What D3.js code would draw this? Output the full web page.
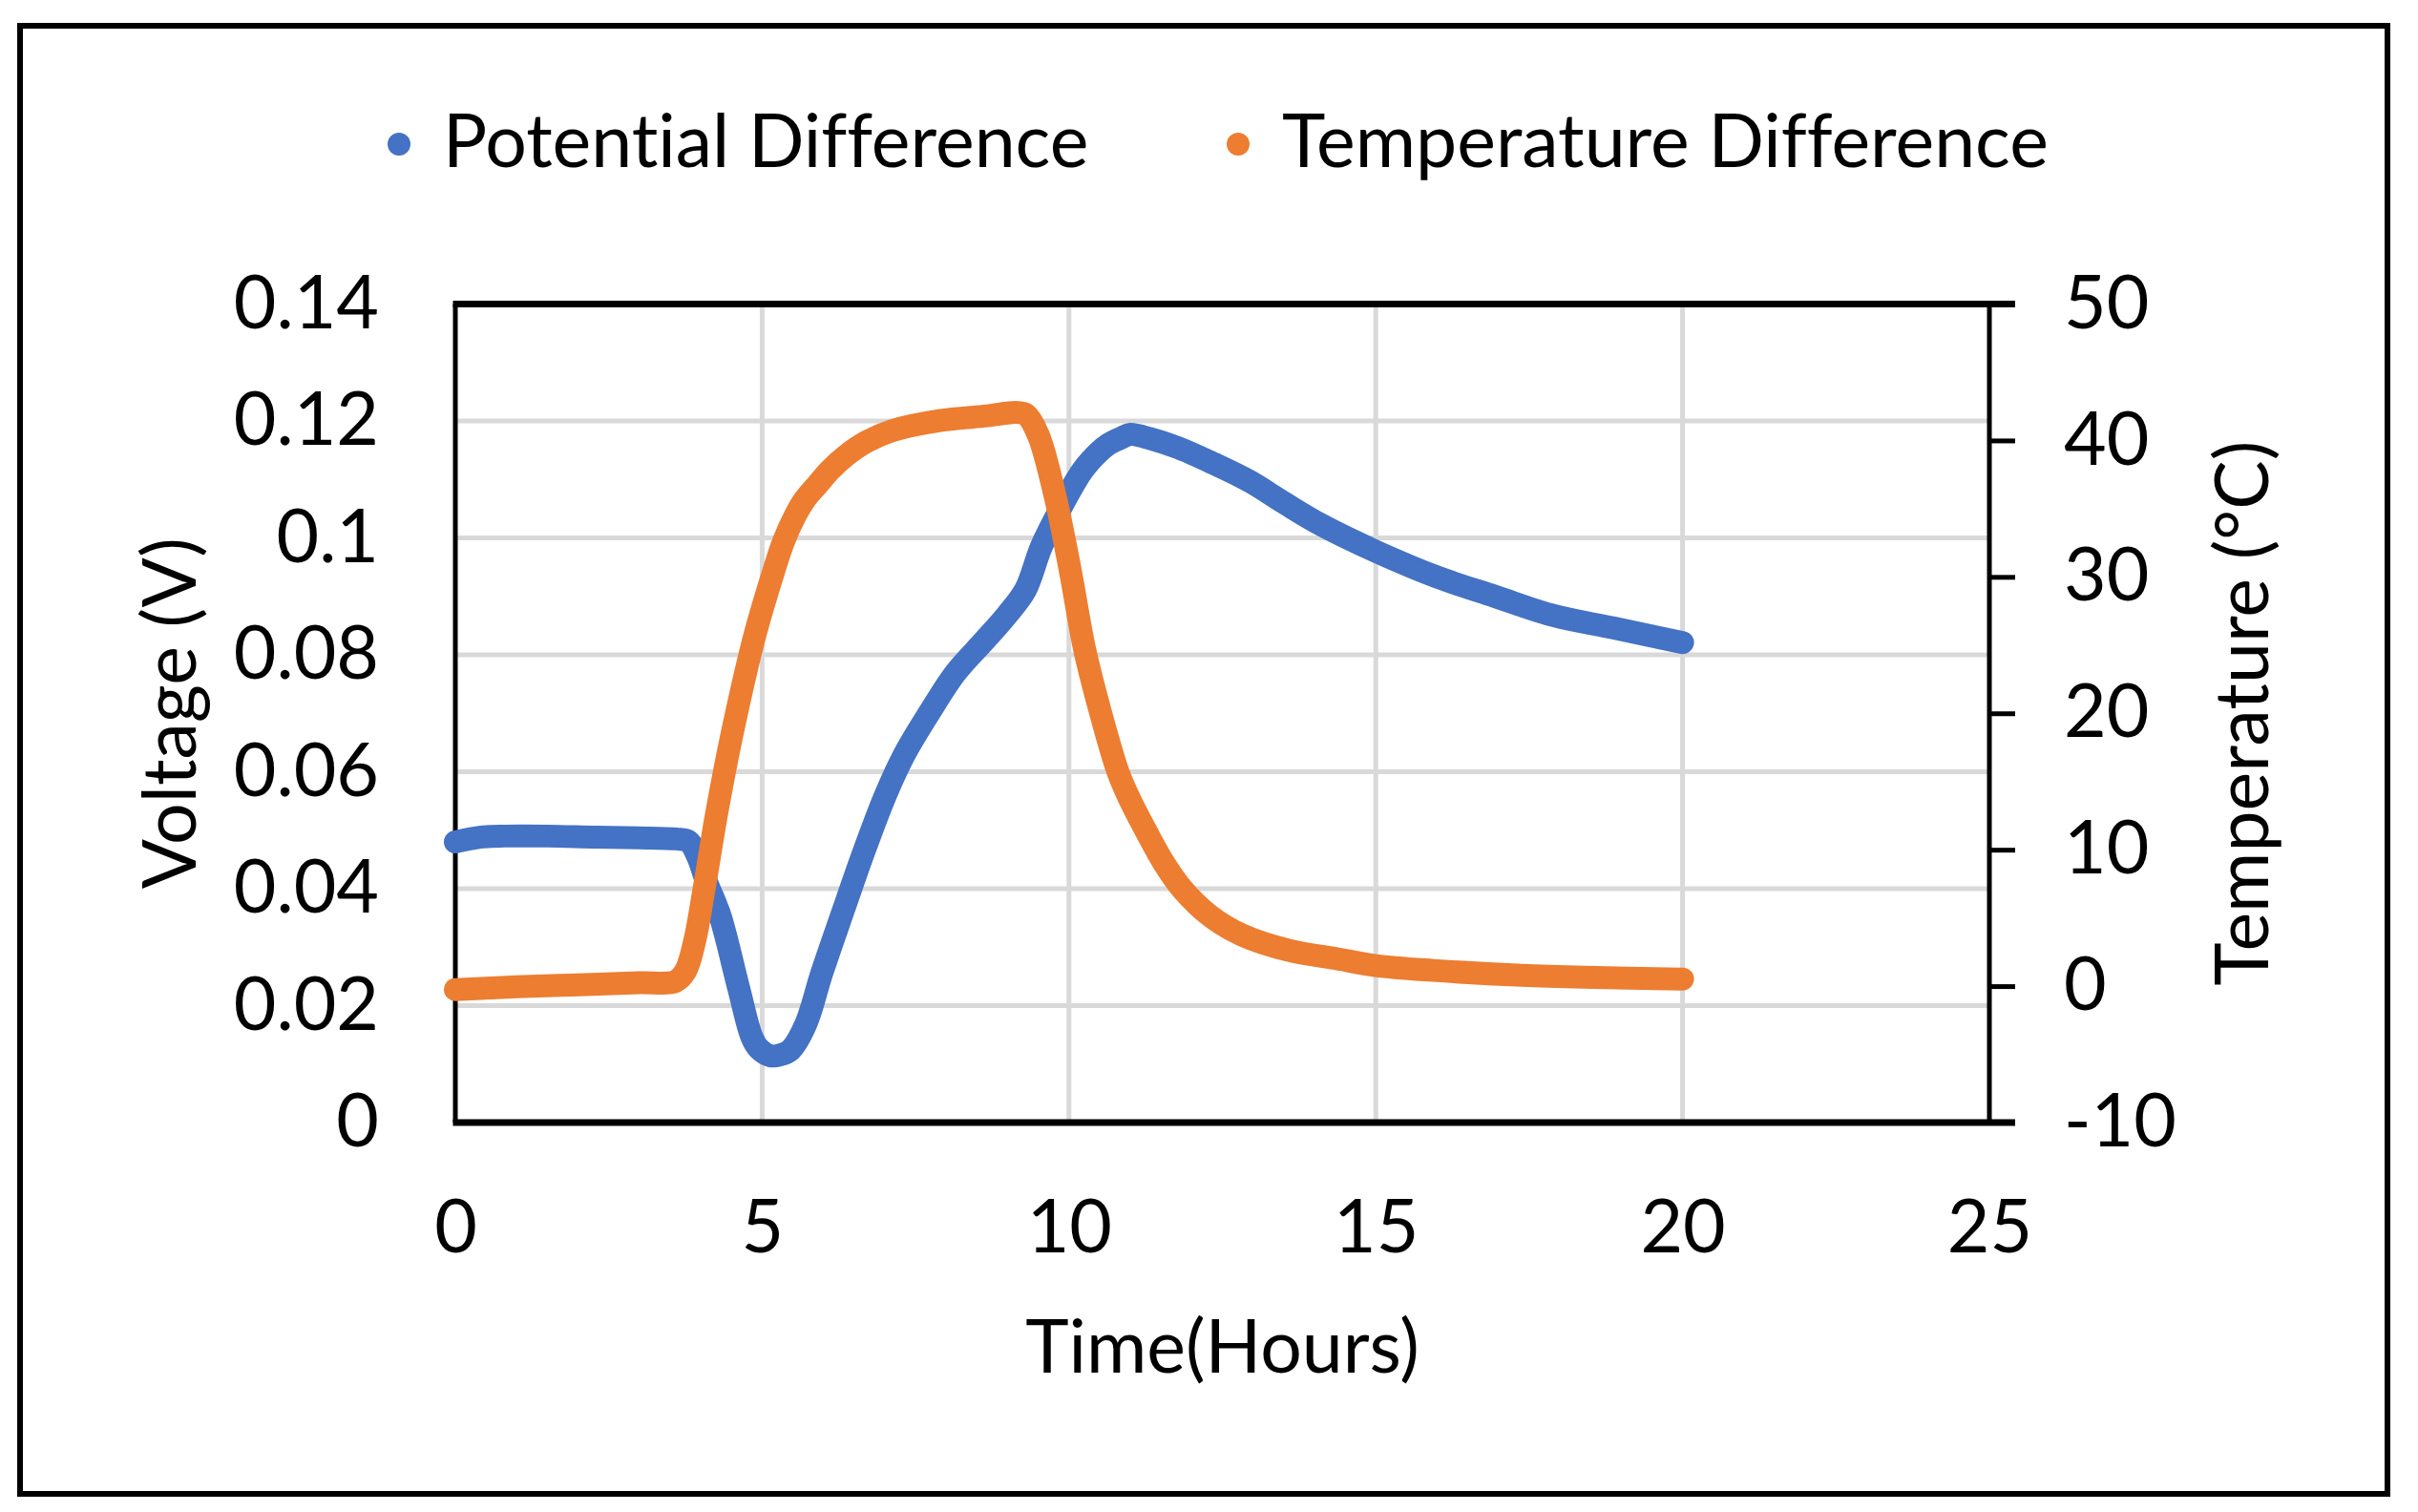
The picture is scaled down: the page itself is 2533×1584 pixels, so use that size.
<!DOCTYPE html>
<html>
<head>
<meta charset="utf-8">
<script src="https://cdn.jsdelivr.net/npm/d3@7"></script>
<style>
  body { margin: 0; background: #fff; }
  text { font-family: Lato, "Open Sans", sans-serif; fill: #000; font-variant-ligatures: none; font-feature-settings: "liga" 0; }
</style>
</head>
<body>
<svg id="chart" width="2533" height="1584"></svg>
<script>
// DATA
const potentialTime = [0, 0.4, 0.8, 1.5, 2.3, 3.0, 3.6, 3.8, 3.95, 4.1, 4.31, 4.62, 4.83, 4.95, 5.14, 5.3, 5.46, 5.71, 5.97, 6.33, 6.65, 7.01, 7.32, 7.79, 8.15, 8.62, 8.98, 9.29, 9.55, 9.86, 10.22, 10.49, 10.64, 10.87, 11.0, 11.32, 11.78, 12.36, 12.94, 13.52, 14.1, 15.0, 16.0, 16.94, 17.9, 18.87, 20.0];
const potentialVolts = [0.0480, 0.0488, 0.0490, 0.0490, 0.0488, 0.0487, 0.0485, 0.0481, 0.0455, 0.0410, 0.0355, 0.0229, 0.0147, 0.0126, 0.0114, 0.0116, 0.0124, 0.0168, 0.0255, 0.0365, 0.0461, 0.0560, 0.0630, 0.0712, 0.0769, 0.0824, 0.0867, 0.0911, 0.0985, 0.1050, 0.1115, 0.1147, 0.1160, 0.1172, 0.1177, 0.1170, 0.1154, 0.1127, 0.1097, 0.1059, 0.1023, 0.0977, 0.0933, 0.0900, 0.0867, 0.0846, 0.0821];

const tempTime = [0, 1.0, 2.0, 3.0, 3.59, 3.75, 3.9, 4.06, 4.26, 4.52, 4.88, 5.18, 5.35, 5.54, 5.7, 5.91, 6.1, 6.37, 6.7, 7.11, 7.89, 8.67, 9.15, 9.3, 9.5, 9.76, 10.02, 10.25, 10.5, 10.8, 11.0, 11.3, 11.55, 11.85, 12.3, 12.82, 13.6, 14.37, 15.0, 15.93, 17.38, 20.0];
const tempDiff = [-0.25, -0.05, 0.1, 0.25, 0.36, 1.1, 3.3, 7.3, 12.7, 18.7, 25.7, 30.3, 32.6, 34.5, 35.7, 36.8, 37.8, 38.9, 39.9, 40.7, 41.45, 41.8, 42.05, 41.9, 40.4, 36.2, 30.5, 24.8, 20.3, 15.7, 13.6, 11.0, 9.0, 7.1, 5.15, 3.75, 2.6, 2.0, 1.5, 1.15, 0.8, 0.52];

const xTicks = [0, 5, 10, 15, 20, 25];
const voltTicks = [0, 0.02, 0.04, 0.06, 0.08, 0.1, 0.12, 0.14];
const tempTicks = [-10, 0, 10, 20, 30, 40, 50];
const seriesNames = ["Potential Difference", "Temperature Difference"];

// CANVAS SETUP
const svg = d3.select("#chart");
const plot = { left: 477, right: 2084, top: 318.5, bottom: 1176 };
const blue = "#4472C4", orange = "#ED7D31", grid = "#D9D9D9";
const fontSize = 77;

svg.append("rect")
  .attr("x", 21).attr("y", 27)
  .attr("width", 2480).attr("height", 1538)
  .attr("fill", "#fff").attr("stroke", "#000").attr("stroke-width", 6);

const x = d3.scaleLinear().domain([0, 25]).range([plot.left, plot.right]);
const yV = d3.scaleLinear().domain([0, 0.14]).range([plot.bottom, plot.top]);
const yT = d3.scaleLinear().domain([-10, 50]).range([plot.bottom, plot.top]);

// gridlines
svg.append("g")
  .selectAll("line")
  .data(xTicks.filter((d) => d > 0 && d < 25))
  .join("line")
  .attr("x1", (d) => x(d)).attr("x2", (d) => x(d))
  .attr("y1", plot.top).attr("y2", plot.bottom)
  .attr("stroke", grid).attr("stroke-width", 5);

svg.append("g")
  .selectAll("line")
  .data(voltTicks.filter((d) => d > 0 && d < 0.14))
  .join("line")
  .attr("x1", plot.left).attr("x2", plot.right)
  .attr("y1", (d) => yV(d)).attr("y2", (d) => yV(d))
  .attr("stroke", grid).attr("stroke-width", 5);

// AXES
const fmt = (d) => String(+d.toFixed(2));

const gLeft = svg.append("g")
  .attr("transform", `translate(${plot.left},0)`)
  .call(d3.axisLeft(yV).tickValues(voltTicks).tickFormat(fmt).tickSize(0).tickPadding(80));

const gRight = svg.append("g")
  .attr("transform", `translate(${plot.right},0)`)
  .call(d3.axisRight(yT).tickValues(tempTicks).tickFormat((d) => String(d)).tickSizeInner(27).tickSizeOuter(0).tickPadding(51));

const gBottom = svg.append("g")
  .attr("transform", `translate(0,${plot.bottom})`)
  .call(d3.axisBottom(x).tickValues(xTicks).tickFormat((d) => String(d)).tickSize(0).tickPadding(81));

[gLeft, gRight, gBottom].forEach((g) => {
  g.select(".domain").remove();
  g.selectAll("text").attr("font-size", fontSize).attr("font-family", "Lato").attr("fill", "#000");
  g.selectAll("line").attr("stroke", "#000").attr("stroke-width", 5);
});

// plot frame
const frame = svg.append("g").attr("stroke", "#000");
frame.append("line").attr("x1", plot.left).attr("x2", plot.left)
  .attr("y1", plot.top).attr("y2", plot.bottom).attr("stroke-width", 5);
frame.append("line").attr("x1", plot.right).attr("x2", plot.right)
  .attr("y1", plot.top).attr("y2", plot.bottom).attr("stroke-width", 5);
frame.append("line").attr("x1", plot.left - 2.5).attr("x2", plot.right + 27)
  .attr("y1", plot.top).attr("y2", plot.top).attr("stroke-width", 7);
frame.append("line").attr("x1", plot.left - 2.5).attr("x2", plot.right + 27)
  .attr("y1", plot.bottom).attr("y2", plot.bottom).attr("stroke-width", 7);

// SERIES
const potential = potentialTime.map((t, i) => [t, potentialVolts[i]]);
const temperature = tempTime.map((t, i) => [t, tempDiff[i]]);

const lineV = d3.line().x((d) => x(d[0])).y((d) => yV(d[1])).curve(d3.curveCatmullRom.alpha(0.5));
const lineT = d3.line().x((d) => x(d[0])).y((d) => yT(d[1])).curve(d3.curveCatmullRom.alpha(0.5));

svg.append("path")
  .datum(potential)
  .attr("d", lineV)
  .attr("fill", "none").attr("stroke", blue)
  .attr("stroke-width", 24).attr("stroke-linecap", "round").attr("stroke-linejoin", "round");

svg.append("path")
  .datum(temperature)
  .attr("d", lineT)
  .attr("fill", "none").attr("stroke", orange)
  .attr("stroke-width", 24).attr("stroke-linecap", "round").attr("stroke-linejoin", "round");

// AXIS TITLES
svg.append("text")
  .attr("x", (plot.left + plot.right) / 2).attr("y", 1438)
  .attr("text-anchor", "middle").attr("font-size", fontSize)
  .text("Time(Hours)");

svg.append("text")
  .attr("transform", `translate(205,${(plot.top + plot.bottom) / 2}) rotate(-90)`)
  .attr("text-anchor", "middle").attr("font-size", fontSize)
  .text("Voltage (V)");

svg.append("text")
  .attr("transform", `translate(2376,${(plot.top + plot.bottom) / 2}) rotate(-90)`)
  .attr("text-anchor", "middle").attr("font-size", fontSize)
  .text("Temperature (°C)");

// LEGEND
const legend = svg.append("g")
  .selectAll("g")
  .data(seriesNames)
  .join("g")
  .attr("transform", (d, i) => `translate(${[418, 1297][i]},0)`);

legend.append("circle")
  .attr("cx", 0).attr("cy", 151).attr("r", 12)
  .attr("fill", (d, i) => [blue, orange][i]);

legend.append("text")
  .attr("x", 46).attr("y", 175)
  .attr("font-size", fontSize)
  .text((d) => d);
</script>
</body>
</html>
